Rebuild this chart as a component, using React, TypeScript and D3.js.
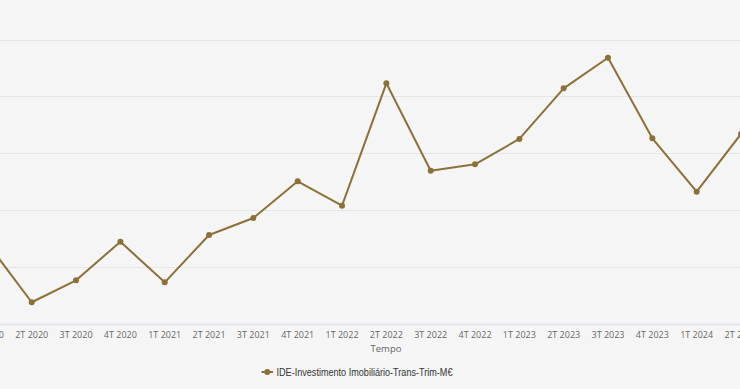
import React from "react";
import * as d3 from "d3";

const categories = [
  "1T 2020", "2T 2020", "3T 2020", "4T 2020",
  "1T 2021", "2T 2021", "3T 2021", "4T 2021",
  "1T 2022", "2T 2022", "3T 2022", "4T 2022",
  "1T 2023", "2T 2023", "3T 2023", "4T 2023",
  "1T 2024", "2T 2024",
];
const values = [
  710, 191, 384, 723,
  366, 782, 931, 1254,
  1040, 2115, 1347, 1403,
  1626, 2071, 2340, 1632,
  1163, 1670,
];
const yTicks = [0, 500, 1000, 1500, 2000, 2500];
const seriesName = "IDE-Investimento Imobiliário-Trans-Trim-M€";
const axisTitle = "Tempo";

const W = 740;
const H = 389;
const COLOR = "#8c7038";

export default function App() {
  const x = d3
    .scalePoint<string>()
    .domain(categories)
    .range([-12.6, 741]);
  const y = d3.scaleLinear().domain([0, 500]).range([324, 267.1]);
  const line = d3
    .line<number>()
    .x((_, i) => x(categories[i]) as number)
    .y((d) => y(d));

  return (
    <div style={{ position: "fixed", left: 0, top: 0, width: W, height: H, background: "#f5f5f5" }}>
      <svg width={W} height={H} style={{ display: "block" }}>
        <rect x={0} y={0} width={W} height={H} fill="#f5f5f5" />
        {yTicks.slice(1).map((t) => (
          <line key={t} x1={0} x2={W} y1={Math.round(y(t)) + 0.5} y2={Math.round(y(t)) + 0.5} stroke="#e6e6e6" strokeWidth={1} />
        ))}
        <line x1={0} x2={W} y1={324.5} y2={324.5} stroke="#e1e3ee" strokeWidth={1.5} />
        {categories.map((c) => (
          <text
            key={c}
            x={x(c)}
            y={337.5}
            textAnchor="middle"
            fontFamily="'Open Sans', sans-serif"
            fontSize={9}
            fill="#666666"
          >
            {c}
          </text>
        ))}
        <text x={386} y={351.5} textAnchor="middle" fontFamily="'Open Sans', sans-serif" fontSize={9.5} fill="#666666">
          {axisTitle}
        </text>
        <path d={line(values) ?? ""} fill="none" stroke={COLOR} strokeWidth={2} strokeLinejoin="round" />
        {values.map((v, i) => (
          <circle key={i} cx={x(categories[i])} cy={y(v)} r={3} fill={COLOR} />
        ))}
        <g>
          <line x1={261.5} x2={273} y1={372} y2={372} stroke={COLOR} strokeWidth={2} />
          <circle cx={267.3} cy={372} r={3} fill={COLOR} />
          <text
            x={276.5}
            y={375.8}
            fontFamily="'Liberation Sans', Arial, sans-serif"
            fontSize={10.5}
            fill="#333333"
            textLength={176}
            lengthAdjust="spacingAndGlyphs"
          >
            {seriesName}
          </text>
        </g>
      </svg>
    </div>
  );
}
